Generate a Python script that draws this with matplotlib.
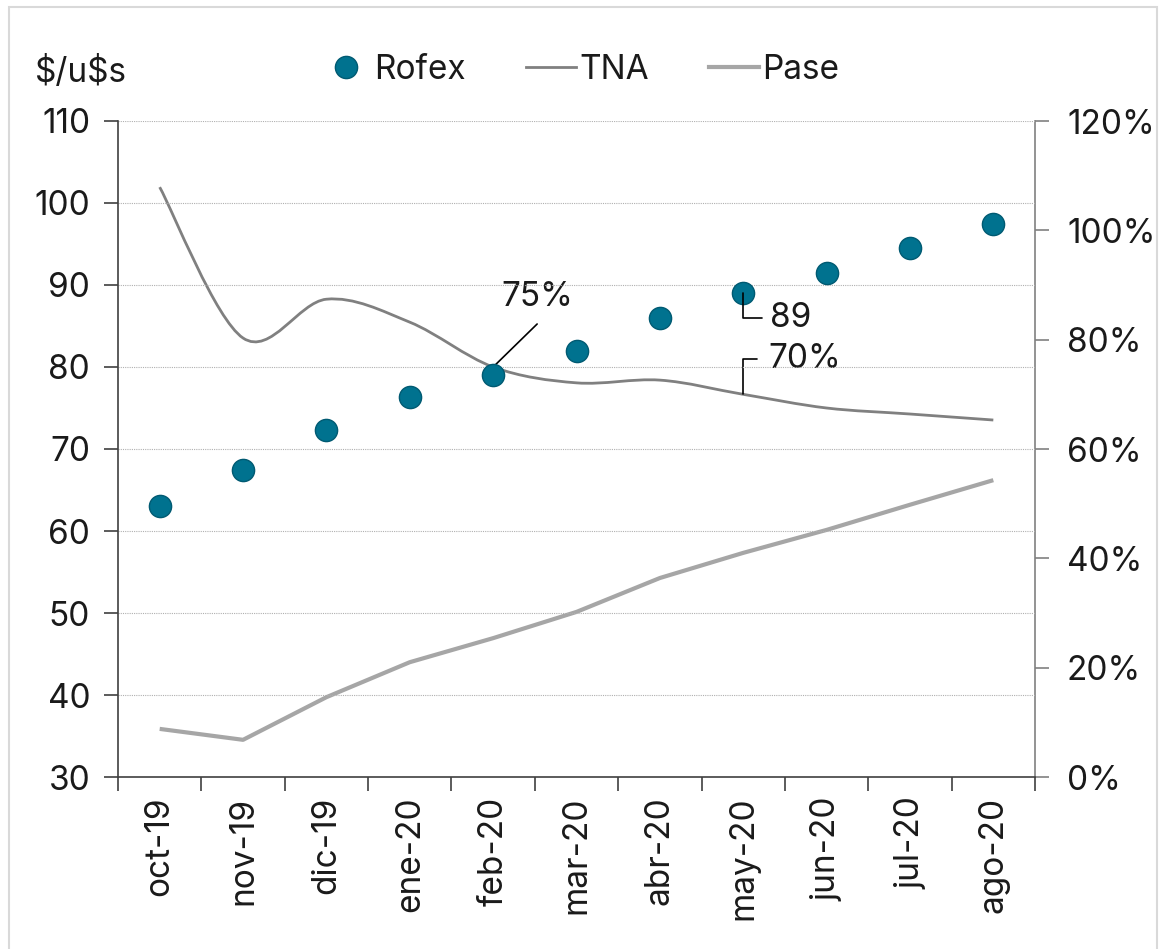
import matplotlib
matplotlib.use("Agg")
import matplotlib.pyplot as plt
from matplotlib.path import Path
from matplotlib.patches import PathPatch, Rectangle
from matplotlib.lines import Line2D
from matplotlib.ticker import FuncFormatter, FixedLocator
import numpy as np

plt.rcParams['font.family'] = ['Inter', 'DejaVu Sans']

months = ['oct-19', 'nov-19', 'dic-19', 'ene-20', 'feb-20', 'mar-20',
          'abr-20', 'may-20', 'jun-20', 'jul-20', 'ago-20']
rofex = [63.0, 67.4, 72.3, 76.3, 79.0, 82.0, 86.0, 89.0, 91.5, 94.5, 97.4]
tna = [1.079, 0.803, 0.874, 0.832, 0.75, 0.721, 0.726, 0.70, 0.675, 0.664, 0.653]
pase = [0.088, 0.068, 0.146, 0.210, 0.254, 0.302, 0.364, 0.410, 0.452, 0.498, 0.543]

FS = 24
TXT = '#1a1a1a'

fig = plt.figure(figsize=(11.7, 9.49), dpi=100)
fig.patch.set_facecolor('white')
# outer frame
fig.patches.append(Rectangle((9/1170, -0.05), (1157-9)/1170, 1 - 7/949 + 0.05,
                             transform=fig.transFigure, fill=False,
                             edgecolor='#d9d9d9', linewidth=1.5))

ax = fig.add_axes([118/1170, 1-777/949, (1035-118)/1170, (777-121)/949])
ax2 = ax.twinx()

x = np.arange(len(months))

# Pase (right axis)
ax2.plot(x, pase, color='#a6a6a6', linewidth=3.0, solid_capstyle='butt', zorder=2)

# TNA smooth line (right axis) via cubic Bezier
pts = np.column_stack([x, tna]).astype(float)
verts = [tuple(pts[0])]
codes = [Path.MOVETO]
n = len(pts)
for i in range(n - 1):
    p0 = pts[i - 1] if i > 0 else pts[i]
    p1 = pts[i]
    p2 = pts[i + 1]
    p3 = pts[i + 2] if i + 2 < n else pts[i + 1]
    c1 = p1 + (p2 - p0) / 6.0
    c2 = p2 - (p3 - p1) / 6.0
    verts += [tuple(c1), tuple(c2), tuple(p2)]
    codes += [Path.CURVE4] * 3
ax2.add_patch(PathPatch(Path(verts, codes), facecolor='none', edgecolor='#808080',
                        linewidth=2.0, zorder=3))

ax.set_zorder(ax2.get_zorder() + 1)
ax.patch.set_visible(False)
ax.plot(x, rofex, linestyle='none', marker='o', markersize=16,
        markerfacecolor='#00728f', markeredgecolor='#005a72', markeredgewidth=1.0, zorder=5)

# axes limits
ax.set_xlim(-0.5, 10.5)
ax.set_ylim(30, 110)
ax2.set_ylim(0, 1.2)
ax.set_yticks(np.arange(30, 111, 10))
ax2.set_yticks(np.arange(0, 1.21, 0.2))
ax2.yaxis.set_major_formatter(FuncFormatter(lambda v, p: f"{v*100:.0f}%"))

ax.xaxis.set_major_locator(FixedLocator(np.arange(-0.5, 10.6, 1)))
ax.xaxis.set_minor_locator(FixedLocator(x))
ax.set_xticklabels([], minor=False)
ax.set_xticklabels(months, minor=True, rotation=90, fontsize=FS, color=TXT)
ax.tick_params(axis='x', which='major', length=10, width=1.2, color='#404040', direction='out')
ax.tick_params(axis='x', which='minor', length=0, pad=14)

ax.tick_params(axis='y', length=10, width=1.2, color='#404040', labelsize=FS,
               labelcolor=TXT, pad=10)
ax2.tick_params(axis='y', length=10, width=1.2, color='#808080', labelsize=FS,
                labelcolor=TXT, pad=13)

ax.grid(axis='y', linestyle=(0, (1, 1)), color='#b0b0b0', linewidth=0.8)
ax.set_axisbelow(True)

for s in ['top']:
    ax.spines[s].set_visible(False)
    ax2.spines[s].set_visible(False)
ax.spines['left'].set_color('#404040')
ax.spines['left'].set_linewidth(1.2)
ax.spines['bottom'].set_color('#404040')
ax.spines['bottom'].set_linewidth(1.2)
ax.spines['right'].set_visible(False)
ax2.spines['left'].set_visible(False)
ax2.spines['bottom'].set_visible(False)
ax2.spines['right'].set_color('#808080')
ax2.spines['right'].set_linewidth(1.2)

# unit label
fig.text(35/1170, 1-72/949, '\\$/u\\$s', fontsize=FS, color=TXT, ha='left', va='center')

# legend
handles = [
    Line2D([], [], linestyle='none', marker='o', markersize=16,
           markerfacecolor='#00728f', markeredgecolor='#005a72'),
    Line2D([], [], color='#808080', linewidth=2.0),
    Line2D([], [], color='#a6a6a6', linewidth=3.0),
]
fig.legend(handles, ['Rofex', 'TNA', 'Pase'], loc='center',
           bbox_to_anchor=(580/1170, 1-70/949), ncol=3, frameon=False,
           fontsize=FS, handlelength=1.5, handletextpad=0.1, columnspacing=1.8,
           labelcolor=TXT)

# annotations
ax2.annotate('', xy=(4, tna[4]), xytext=(44, 43), textcoords='offset pixels',
             arrowprops=dict(arrowstyle='-', color='black', lw=1.2,
                             shrinkA=0, shrinkB=0))
ax2.annotate(f"{tna[4]*100:.0f}%", xy=(4, tna[4]), xytext=(44, 54),
             textcoords='offset pixels', ha='center', va='bottom',
             fontsize=FS, color=TXT)

ax.annotate('', xy=(7, rofex[7]), xytext=(19, -25), textcoords='offset pixels',
            arrowprops=dict(arrowstyle='-', color='black', lw=1.2, shrinkA=0, shrinkB=0,
                            connectionstyle='angle,angleA=0,angleB=90,rad=0'),
            zorder=7)
ax.annotate(f"{rofex[7]:.0f}", xy=(7, rofex[7]), xytext=(27, -25),
            textcoords='offset pixels', ha='left', va='center', fontsize=FS, color=TXT)

ax2.annotate('', xy=(7, tna[7]), xytext=(14, 35), textcoords='offset pixels',
             arrowprops=dict(arrowstyle='-', color='black', lw=1.2, shrinkA=0, shrinkB=0,
                             connectionstyle='angle,angleA=0,angleB=90,rad=0'))
ax2.annotate(f"{tna[7]*100:.0f}%", xy=(7, tna[7]), xytext=(25, 35),
             textcoords='offset pixels', ha='left', va='center', fontsize=FS, color=TXT)

fig.savefig('out.png', dpi=100, facecolor='white')
